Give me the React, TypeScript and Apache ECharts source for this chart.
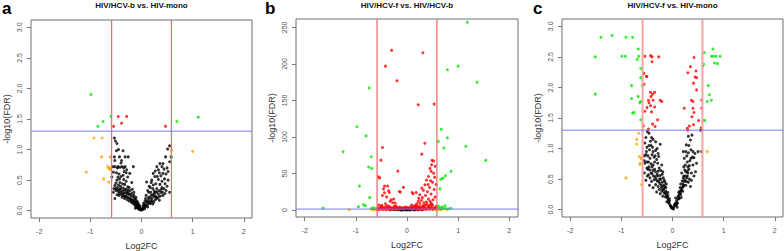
import React, { useEffect, useRef } from "react";
import * as echarts from "echarts";

const FONT = "Liberation Sans, Arial, Helvetica, sans-serif";

const panelLetters = ["a", "b", "c"];
const panelTitles = ["HIV/HCV-b vs. HIV-mono", "HIV/HCV-f vs. HIV/HCV-b", "HIV/HCV-f vs. HIV-mono"];
const xTicks = [-2, -1, 0, 1, 2];
const yTicksSmall = [0, 0.5, 1, 1.5, 2, 2.5, 3];
const yTicksLarge = [0, 50, 100, 150, 200, 250];
const fcCut = 0.585;
const fdrCut = 1.301;

// Panel a
const aBlack = [
  [-0.53,1.19],[-0.51,1.14],[-0.48,1.10],[-0.49,0.98],[-0.36,0.98],[-0.53,0.88],[-0.43,0.88],[-0.32,0.88],[-0.26,0.88],
  [-0.52,0.72],[-0.46,0.72],[-0.42,0.71],[-0.38,0.72],[-0.32,0.72],[-0.16,0.72],[-0.29,0.67],[-0.55,0.63],[-0.49,0.62],
  [-0.44,0.60],[-0.23,0.61],[-0.40,0.56],[-0.43,0.52],[-0.35,0.51],[-0.30,0.48],[-0.19,0.46],[-0.52,0.41],[-0.47,0.38],
  [-0.41,0.40],[-0.36,0.37],[-0.31,0.35],[-0.27,0.39],[-0.22,0.33],[-0.50,0.33],[-0.45,0.31],[-0.40,0.30],[-0.34,0.29],
  [-0.29,0.28],[-0.25,0.27],[-0.20,0.24],[-0.16,0.22],[-0.55,0.30],[-0.52,0.20],[-0.44,0.25],[-0.38,0.22],[-0.33,0.20],
  [-0.28,0.18],[-0.24,0.16],[-0.20,0.14],[-0.17,0.12],[-0.14,0.10],[-0.12,0.08],[-0.10,0.06],[-0.08,0.05],[-0.06,0.03],
  [-0.04,0.02],[-0.02,0.01],[-0.13,0.18],[-0.10,0.14],[-0.11,0.22],[-0.15,0.30],[-0.18,0.35],[-0.37,0.44],[-0.27,0.55],
  [-0.48,0.50],[-0.56,0.72],[-0.58,0.55],[-0.40,0.78],[-0.34,0.64],[-0.45,1.00],[-0.39,0.82],[-0.09,0.10],[-0.07,0.08],
  [-0.05,0.05],[-0.14,0.14],[-0.22,0.20],[-0.30,0.24],[-0.36,0.27],[-0.42,0.34],[-0.48,0.26],[-0.26,0.31],[-0.12,0.04],
  [-0.03,0.04],
  [-0.50,0.36],[-0.46,0.34],[-0.43,0.28],[-0.41,0.36],[-0.39,0.26],[-0.37,0.32],[-0.35,0.24],[-0.33,0.34],[-0.32,0.23],
  [-0.30,0.30],[-0.28,0.22],[-0.27,0.34],[-0.25,0.21],[-0.23,0.27],[-0.21,0.18],[-0.19,0.28],[-0.18,0.17],[-0.16,0.16],
  [-0.15,0.25],[-0.13,0.13],[-0.12,0.20],[-0.10,0.11],[-0.09,0.16],[-0.08,0.09],[-0.07,0.13],[-0.06,0.06],[-0.05,0.10],
  [-0.04,0.04],[-0.03,0.07],[-0.01,0.03],[-0.45,0.42],[-0.50,0.45],[-0.54,0.36],[-0.42,0.46],[-0.33,0.43],[-0.24,0.38],
  [-0.46,0.55],[-0.36,0.58],[-0.30,0.62],[-0.52,0.82],[-0.47,0.70],[-0.35,0.70],
  [0.55,1.06],[0.51,1.01],[0.58,0.88],[0.47,0.88],[0.36,0.77],[0.42,0.77],[0.30,0.72],[0.40,0.72],[0.33,0.67],[0.23,0.61],
  [0.42,0.61],[0.26,0.56],[0.52,0.64],[0.10,0.47],[0.19,0.46],[0.33,0.51],[0.36,0.43],[0.45,0.52],[0.50,0.70],[0.55,0.80],
  [0.28,0.44],[0.15,0.40],[0.22,0.36],[0.30,0.36],[0.40,0.38],[0.48,0.33],[0.12,0.33],[0.18,0.30],[0.25,0.28],[0.33,0.27],
  [0.42,0.25],[0.55,0.30],[0.09,0.25],[0.14,0.22],[0.20,0.20],[0.27,0.18],[0.35,0.17],[0.07,0.16],[0.11,0.14],[0.16,0.12],
  [0.22,0.11],[0.05,0.09],[0.08,0.07],[0.12,0.06],[0.03,0.04],[0.06,0.03],[0.01,0.01],[0.02,0.02],[0.04,0.06],[0.18,0.16],
  [0.24,0.23],[0.29,0.22],[0.38,0.30],[0.46,0.44],[0.20,0.50],[0.38,0.57],[0.27,0.65],
  [0.03,0.08],[0.05,0.05],[0.07,0.11],[0.09,0.08],[0.10,0.15],[0.12,0.10],[0.13,0.18],[0.15,0.14],[0.16,0.21],[0.18,0.12],
  [0.19,0.25],[0.21,0.16],[0.22,0.26],[0.24,0.14],[0.25,0.32],[0.27,0.24],[0.28,0.30],[0.30,0.20],[0.31,0.31],[0.33,0.22],
  [0.35,0.33],[0.37,0.24],[0.39,0.35],[0.41,0.30],[0.44,0.36],[0.46,0.28],[0.50,0.40],[0.17,0.38],[0.23,0.42],[0.31,0.56],
  [0.35,0.62],[0.44,0.68],[0.48,0.60],[0.40,0.48],[0.52,0.50],[0.14,0.30],[0.08,0.20],[0.04,0.12],
];
const aOrange = [
  [-0.93,1.19],[-0.77,1.19],[-0.78,0.88],[-0.61,0.88],[-0.66,0.72],[-0.64,0.69],[-0.62,0.675],[-0.61,0.70],
  [-1.08,0.63],[-0.74,0.52],[-0.64,0.47],[0.59,0.99],[1.00,0.97],
];
const aRed = [[-0.455,1.54],[-0.29,1.54],[-0.39,1.43],[-0.545,1.38],[0.47,1.38]];
const aGreen = [[-0.99,1.90],[-0.60,1.54],[-0.75,1.46],[-0.85,1.38],[0.69,1.46],[1.11,1.53]];

// Panel b
const bBlack = [
  [-0.33,0.6],[-0.28,1.2],[-0.24,0.4],[-0.2,0.9],[-0.17,0.3],[-0.14,1.4],[-0.11,0.5],[-0.08,0.2],[-0.06,1.0],[-0.03,0.4],
  [0,0.1],[0.03,0.7],[0.06,0.3],[0.09,1.1],[0.12,0.5],[0.15,0.2],[0.18,0.9],[0.22,0.4],[0.26,1.0],[0.30,0.3],[-0.12,0.1],
  [0.01,1.2],[-0.02,0.8],[0.05,0.05],
];
const bOrange = [[-1.13,0.5],[-0.63,0.6],[-0.66,0.9],[-0.68,0.4],[0.62,0.8],[0.65,0.5],[0.69,1.0],[0.78,0.7]];
const bRed = [
  [-0.30,218.6],[-0.42,197],[-0.195,177],[0.22,144],[0.53,145],[0.31,215.4],[-0.48,85.6],[0.35,91.5],[0.29,76.5],
  [-0.51,68.3],[-0.18,53.3],[-0.56,45.5],[-0.535,44],[-0.07,31],
  [-0.44,33],[-0.38,32.8],[-0.46,29],[-0.36,26.4],[-0.345,24],[-0.44,23.7],[-0.15,25.5],[-0.13,24.6],[0.10,24],[0.18,24],
  [0.12,22.3],[-0.26,15],[-0.31,14],[-0.42,8.7],[-0.23,9.6],[-0.48,20],[-0.40,18],[-0.33,12],[-0.28,10],[-0.37,6],
  [-0.50,5],[-0.55,7],
  [0.49,68],[0.52,67],[0.48,62],[0.55,60],[0.45,57],[0.47,53],[0.52,50.5],[0.42,46],[0.38,41],[0.46,40],[0.50,38],
  [0.35,34.6],[0.41,35],[0.29,30],[0.44,31],[0.32,27],[0.40,25],[0.47,22],[0.25,21],[0.36,20],[0.23,16],[0.30,17],
  [0.42,15],[0.22,12],[0.28,13],[0.33,10],[0.19,8.7],[0.25,9],[0.38,11],[0.45,12],[0.51,14],[0.55,18],[0.53,28],
  [0.54,45],[0.57,35],[0.48,8],[0.31,6],[0.36,7],[0.21,5],[0.26,4.5],[0.15,6],[0.42,5],[0.12,4],
  [-0.58,1],[-0.57,3],[-0.55,0.5],[-0.53,2],[-0.51,4],[-0.50,1],[-0.48,2.5],[-0.46,0.8],[-0.45,3.5],[-0.43,1.5],
  [-0.41,5],[-0.40,0.6],[-0.38,2],[-0.36,3.5],[-0.35,1],[-0.33,4.5],[-0.31,2],[-0.30,0.7],[-0.28,3],[-0.26,1.5],
  [-0.25,5],[-0.23,2.5],[-0.21,0.9],[-0.20,3.8],[-0.18,1.6],[-0.16,2.8],[-0.14,4.2],[-0.12,1.9],[-0.10,3],[-0.08,2.2],
  [-0.06,3.5],[-0.04,2.6],[-0.02,4],[0,3],[0.02,2.5],[0.04,3.6],[0.06,1.8],[0.08,4.5],[0.10,2.4],[0.12,1.2],[0.14,3.2],
  [0.16,1.8],[0.18,5],[0.20,0.8],[0.22,2.6],[0.24,1.4],[0.26,3.4],[0.28,0.9],[0.30,2.2],[0.32,4.6],[0.34,1.2],[0.36,3],
  [0.38,0.7],[0.40,2],[0.42,3.8],[0.44,1.1],[0.46,2.7],[0.48,4.2],[0.50,0.8],[0.52,2.1],[0.54,3.3],[0.56,1.2],[0.57,5],
  [0.58,2.4],[-0.49,6.5],[0.09,7],[0.17,6],[0.33,5.5],[0.44,6.5],[-0.22,6],[0.39,8],[0.47,9.5],[0.50,7],
];
const bGreen = [
  [1.18,257],[1.00,197],[0.79,192],[1.37,175],[-0.74,167],[-0.98,114],[-0.80,101.5],[0.67,110.7],[0.79,99],[0.61,94],
  [0.72,85],[1.15,87.4],[1.54,68],[-1.25,79.7],[-0.70,73],[-0.75,59],[-0.69,57],[0.86,53],[0.75,47],[0.70,43.7],
  [0.66,42],[-0.93,33],[-0.73,17],[-0.85,7.3],[-0.81,6],[-0.95,4.6],[0.61,6],[0.645,29],[-1.64,2.7],[0.66,1.6],
  [0.71,2.5],[0.76,2],[0.81,1.8],[0.86,2.4],[0.63,3.5],[-0.62,2],[-0.66,3],[-0.70,2.2],[0.74,6],[0.68,4],
];

// Panel c
const cBlack = [
  [-0.49,1.28],[-0.46,1.25],[-0.52,1.18],[-0.41,1.18],[-0.38,1.15],[-0.33,1.11],[-0.54,1.09],[-0.42,1.05],[-0.24,1.07],
  [-0.51,0.95],[-0.45,0.98],[-0.38,0.95],[-0.28,0.92],[-0.55,0.88],[-0.44,0.84],[-0.36,0.86],[-0.31,0.82],[-0.54,0.76],
  [-0.47,0.78],[-0.38,0.73],[-0.29,0.76],[-0.21,0.73],[-0.50,0.68],[-0.44,0.65],[-0.35,0.66],[-0.28,0.63],[-0.55,0.60],
  [-0.47,0.57],[-0.40,0.59],[-0.34,0.54],[-0.24,0.56],[-0.18,0.52],[-0.41,0.46],[-0.36,0.49],[-0.30,0.47],[-0.25,0.43],
  [-0.20,0.45],[-0.33,0.41],[-0.28,0.38],[-0.15,0.38],[-0.22,0.35],[-0.18,0.32],[-0.26,0.33],[-0.21,0.30],[-0.16,0.27],
  [-0.12,0.25],[-0.14,0.21],[-0.10,0.19],[-0.08,0.16],[-0.11,0.13],[-0.07,0.11],[-0.05,0.08],[-0.04,0.06],[-0.02,0.03],
  [0.0,0.02],[-0.06,0.14],[-0.09,0.23],[-0.13,0.30],[-0.17,0.40],[-0.23,0.50],[-0.30,0.58],[-0.40,0.70],[-0.48,0.88],
  [-0.33,0.97],[-0.43,1.12],[-0.50,1.02],[-0.35,0.78],[-0.26,0.68],[-0.19,0.62],[-0.12,0.42],[-0.16,0.48],[-0.44,0.52],
  [-0.52,0.48],[-0.27,0.87],[-0.31,0.29],[-0.24,0.26],[-0.19,0.22],[-0.38,0.36],
  [-0.48,0.66],[-0.42,0.60],[-0.37,0.55],[-0.32,0.50],[-0.27,0.46],[-0.22,0.40],[-0.17,0.34],[-0.14,0.28],[-0.11,0.21],
  [-0.08,0.12],[-0.06,0.18],[-0.03,0.05],[-0.01,0.04],[-0.09,0.28],[-0.13,0.36],[-0.20,0.38],[-0.25,0.50],[-0.29,0.55],
  [-0.33,0.62],[-0.38,0.64],[-0.42,0.75],[-0.46,0.70],[-0.50,0.78],[-0.55,0.80],[-0.52,0.90],[-0.40,0.90],[-0.34,0.88],
  [-0.30,1.00],[-0.46,1.05],[-0.39,1.02],[-0.20,0.58],[-0.15,0.45],[-0.23,0.64],[-0.45,0.40],[-0.49,0.55],
  [0.03,0.05],[0.08,0.14],[0.11,0.22],[0.14,0.30],[0.21,0.38],[0.31,0.45],[0.24,0.49],[0.18,0.60],[0.29,0.63],[0.37,0.60],
  [0.25,0.73],[0.40,0.73],[0.23,0.84],[0.31,0.93],[0.44,0.92],[0.57,0.95],[0.21,0.95],[0.27,1.06],[0.35,1.14],[0.38,1.22],
  [0.55,1.30],[0.05,0.09],[0.07,0.07],[0.10,0.11],[0.13,0.18],[0.16,0.25],[0.18,0.33],[0.20,0.42],[0.22,0.55],[0.26,0.40],
  [0.28,0.52],[0.33,0.50],[0.15,0.36],[0.12,0.28],[0.19,0.47],[0.24,0.65],[0.30,0.70],[0.34,0.80],[0.28,0.88],[0.36,0.98],
  [0.32,1.05],[0.39,0.86],[0.47,0.76],[0.42,0.55],[0.50,0.95],[0.35,0.38],[0.09,0.04],[0.02,0.01],[0.06,0.19],[0.26,0.95],
  [0.31,1.20],[0.22,0.70],
  [0.01,0.03],[0.04,0.08],[0.06,0.11],[0.08,0.09],[0.10,0.17],[0.12,0.20],[0.13,0.24],[0.15,0.28],[0.17,0.20],[0.17,0.31],
  [0.19,0.36],[0.20,0.30],[0.22,0.40],[0.23,0.46],[0.25,0.55],[0.27,0.46],[0.29,0.55],[0.30,0.60],[0.32,0.66],[0.26,0.62],
  [0.21,0.52],[0.16,0.42],[0.33,0.72],[0.36,0.84],[0.29,0.78],[0.42,0.85],[0.45,0.62],[0.37,0.48],[0.40,0.95],
];
const cOrange = [
  [-0.66,1.25],[-0.70,1.15],[-0.70,1.07],[-0.65,0.87],[-0.62,0.85],[-0.605,0.83],[-0.63,0.76],[-0.64,0.74],[-0.91,0.52],
  [-0.605,0.41],[0.68,0.95],
];
const cRed = [
  [-0.54,2.51],[-0.43,2.52],[-0.40,2.50],[-0.27,2.50],[-0.40,2.42],[-0.56,2.23],[-0.51,2.18],[-0.50,2.18],[-0.56,2.05],
  [-0.43,1.92],[-0.35,1.92],[-0.39,1.89],[-0.42,1.85],[-0.47,1.79],[-0.38,1.79],[-0.24,1.79],[-0.21,1.77],[-0.46,1.75],
  [-0.43,1.70],[-0.35,1.68],[-0.50,1.67],[-0.54,1.61],[-0.41,1.60],[-0.29,1.47],[-0.57,1.37],[-0.39,1.40],[-0.34,1.36],
  [-0.47,1.32],
  [0.42,2.49],[0.35,2.34],[0.30,2.24],[0.46,2.27],[0.44,2.17],[0.47,2.16],[0.41,2.07],[0.47,1.96],[0.37,1.79],[0.40,1.77],
  [0.57,1.79],[0.23,1.66],[0.40,1.66],[0.57,1.66],[0.42,1.59],[0.38,1.52],[0.51,1.46],[0.41,1.39],[0.33,1.37],[0.56,1.34],
  [0.29,1.33],[0.30,1.30],
];
const cGreen = [
  [-1.40,2.82],[-1.18,2.85],[-0.91,2.82],[-0.78,2.82],[-1.51,2.50],[-0.99,2.51],[-0.92,2.51],[-0.67,2.63],[-0.66,2.51],
  [-0.69,2.46],[-0.62,2.31],[-0.62,2.16],[-0.59,2.03],[-0.80,2.03],[-0.67,1.85],[-0.80,1.82],[-1.51,1.89],[-0.62,1.77],
  [-0.64,1.75],[-0.78,1.58],[-0.75,1.59],[-0.62,1.47],
  [0.79,2.63],[0.62,2.57],[0.76,2.51],[0.80,2.51],[0.85,2.51],[0.93,2.51],[0.82,2.40],[0.88,2.39],[0.61,2.38],[0.59,2.35],
  [0.70,2.03],[0.72,1.88],[0.76,1.79],[0.68,1.77],[0.60,1.46],[0.63,1.46],
];

const panels = [
  { grid: { left: 31, top: 20, width: 221, height: 198 }, xr: [-2.16, 2.16], yr: [-0.12, 3.12], yTicks: yTicksSmall, dec: 1,
    black: aBlack, orange: aOrange, red: aRed, green: aGreen, vColor: "#ee7070", vWidth: 1.3, letterX: 2, titleX: 141.5 },
  { grid: { left: 296, top: 19, width: 222, height: 198 }, xr: [-2.17, 2.17], yr: [-9.5, 261.5], yTicks: yTicksLarge, dec: 0,
    black: bBlack, orange: bOrange, red: bRed, green: bGreen, vColor: "#ee7070", vWidth: 1.3, letterX: 265, titleX: 407 },
  { grid: { left: 562, top: 19, width: 221, height: 198 }, xr: [-2.16, 2.16], yr: [-0.12, 3.12], yTicks: yTicksSmall, dec: 1,
    black: cBlack, orange: cOrange, red: cRed, green: cGreen, vColor: "#f5a3a3", vWidth: 2, letterX: 533, titleX: 672.5 },
];

function buildOption() {
  const grids: any[] = [];
  const xAxes: any[] = [];
  const yAxes: any[] = [];
  const series: any[] = [];
  const titles: any[] = [];
  panels.forEach((p, i) => {
    grids.push({ ...p.grid, show: true, borderColor: "#6e6e6e", borderWidth: 1, backgroundColor: "transparent", containLabel: false, outerBoundsMode: "none" });
    xAxes.push({
      gridIndex: i, type: "value", min: p.xr[0], max: p.xr[1], position: "bottom",
      axisLine: { show: false, onZero: false },
      axisTick: { show: true, length: 4, customValues: xTicks, lineStyle: { color: "#777" } },
      axisLabel: { customValues: xTicks, fontSize: 7, color: "#555", margin: 10, fontFamily: FONT, formatter: (v: number) => String(v) },
      splitLine: { show: false },
      name: "Log2FC", nameLocation: "middle", nameGap: 23,
      nameTextStyle: { fontSize: 9, color: "#333", fontFamily: FONT },
    });
    yAxes.push({
      gridIndex: i, type: "value", min: p.yr[0], max: p.yr[1], position: "left",
      axisLine: { show: false, onZero: false },
      axisTick: { show: true, length: 4, customValues: p.yTicks, lineStyle: { color: "#777" } },
      axisLabel: { customValues: p.yTicks, rotate: 90, fontSize: 7, color: "#555", margin: 8, fontFamily: FONT,
        formatter: (v: number) => v.toFixed(p.dec) },
      splitLine: { show: false },
      name: "-log10(FDR)", nameLocation: "middle", nameRotate: 90, nameGap: 20,
      nameTextStyle: { fontSize: 9, color: "#333", fontFamily: FONT },
    });
    const base = { type: "scatter", xAxisIndex: i, yAxisIndex: i, symbol: "circle", symbolSize: 3, silent: true };
    series.push({ ...base, data: p.black, itemStyle: { color: "#000" } });
    series.push({ ...base, data: p.orange, itemStyle: { color: "#ffa500" } });
    series.push({ ...base, data: p.red, itemStyle: { color: "#ff0000" } });
    series.push({ ...base, data: p.green, itemStyle: { color: "#00e800" } });
    const lineBase = { type: "line", xAxisIndex: i, yAxisIndex: i, showSymbol: false, symbol: "none", silent: true };
    series.push({ ...lineBase, data: [[-fcCut, p.yr[0]], [-fcCut, p.yr[1]]], lineStyle: { color: p.vColor, width: p.vWidth } });
    series.push({ ...lineBase, data: [[fcCut, p.yr[0]], [fcCut, p.yr[1]]], lineStyle: { color: p.vColor, width: p.vWidth } });
    series.push({ ...lineBase, data: [[p.xr[0], fdrCut], [p.xr[1], fdrCut]], lineStyle: { color: "#7878ff", width: 1 } });
    titles.push({ text: panelLetters[i], left: p.letterX, top: 0, padding: 0,
      textStyle: { fontSize: 17, fontWeight: "bold", color: "#000", fontFamily: FONT } });
    titles.push({ text: panelTitles[i], left: p.titleX, textAlign: "center", top: 1, padding: 0,
      textStyle: { fontSize: 8, fontWeight: "bold", color: "#111", fontFamily: FONT } });
  });
  return { animation: false, backgroundColor: "#fff", title: titles, grid: grids, xAxis: xAxes, yAxis: yAxes, series };
}

export default function App() {
  const ref = useRef<HTMLDivElement>(null);
  useEffect(() => {
    const chart = echarts.init(ref.current!, null, { renderer: "svg" });
    chart.setOption(buildOption() as any);
    return () => chart.dispose();
  }, []);
  return <div ref={ref} style={{ position: "fixed", left: 0, top: 0, width: 784, height: 251 }} />;
}
